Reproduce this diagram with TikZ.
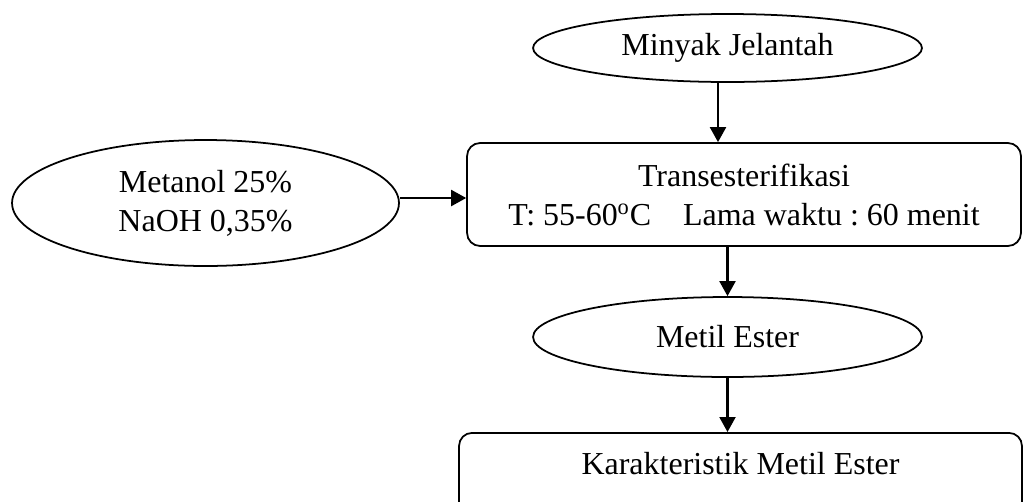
\documentclass[tikz,border=0pt]{standalone}
\usepackage{fontspec}
\setmainfont{Liberation Serif}
\frenchspacing
\usetikzlibrary{positioning}
\usetikzlibrary{shapes.geometric}
\usetikzlibrary{arrows.meta}

\begin{document}
\begin{tikzpicture}[
        x = 0.02cm, y = -0.02cm,
        oval/.style = {shape = ellipse, draw = black, line width = 1pt, inner sep = 0cm, align = center, font = \fontsize{18.2pt}{22.2pt}\selectfont},
        proc/.style = {shape = rectangle, rounded corners = 0.26cm, draw = black, line width = 1pt, inner sep = 0cm, align = center, font = \fontsize{18.2pt}{22.2pt}\selectfont},
        >={Triangle[length = 0.3cm, width = 0.32cm]},
    ]
    \path[use as bounding box, clip] (0,0) rectangle (1023,501);

    \node[oval, minimum width = 7.78cm, minimum height = 1.36cm] (A) at (727.5, 48) {Minyak Jelantah};
    \node[oval, minimum width = 7.74cm, minimum height = 2.52cm] (B) at (205.5, 203) {Metanol 25\%\\ NaOH 0,35\%};
    \node[proc, minimum width = 11.08cm, minimum height = 2.06cm] (C) at (744, 194.5) {Transesterifikasi\\ T: 55-60\textsuperscript{o}C\quad Lama waktu : 60 menit};
    \node[oval, minimum width = 7.78cm, minimum height = 1.6cm] (D) at (727.5, 337) {Metil Ester};
    \node[proc, anchor = north, minimum width = 11.26cm, text height = 0.83cm, text depth = 1.3cm] (E) at (740.5, 432) {Karakteristik Metil Ester};

    \coordinate (a1) at ([xshift = -0.19cm]A.south);
    \coordinate (b1) at ([yshift = 0.1cm]B.east);
    \path[->, line width = 1.2pt] (a1) edge (a1 |- C.north);
    \path[->, line width = 1.2pt] (b1) edge (b1 -| C.west);
    \path[->, line width = 1.2pt] (D.north |- C.south) edge (D.north);
    \path[->, line width = 1.2pt] (D.south) edge (D.south |- E.north);
\end{tikzpicture}
\end{document}
